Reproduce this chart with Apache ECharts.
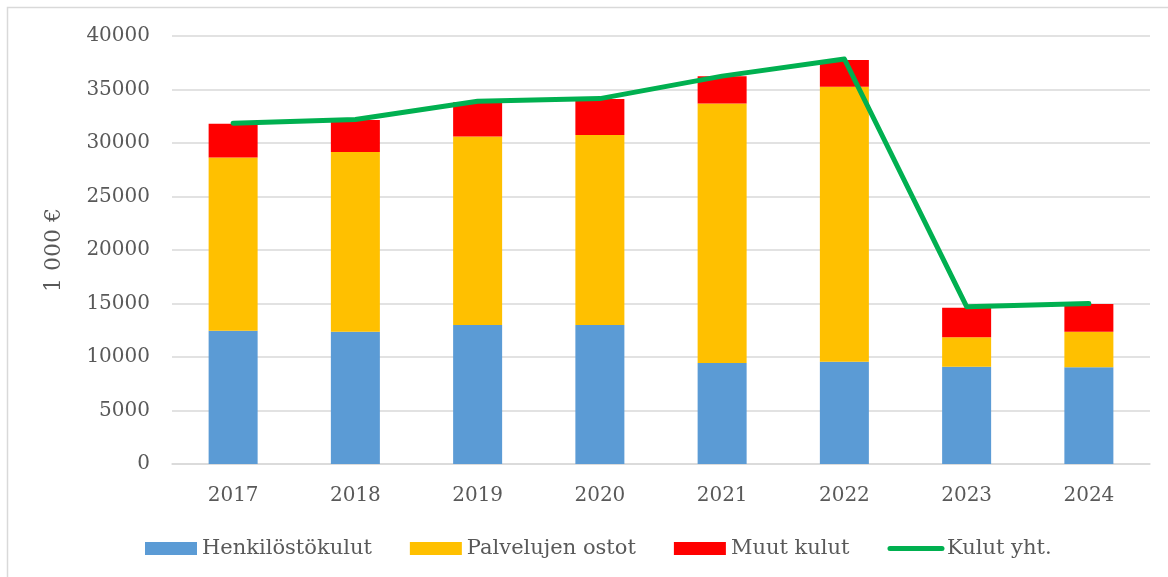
<!DOCTYPE html>
<html>
<head>
<meta charset="utf-8">
<script src="https://cdn.jsdelivr.net/npm/echarts@6/dist/echarts.min.js"></script>
<style>
  html, body { margin: 0; padding: 0; background: #fff; }
  #main { width: 1168px; height: 577px; }
</style>
</head>
<body>
<div id="main"></div>
<script>
// vuodet ja kulut (1 000 €)
const years = ['2017', '2018', '2019', '2020', '2021', '2022', '2023', '2024'];
const henkilosto = [12450, 12350, 13000, 13000, 9450, 9550, 9100, 9050];
const palvelut = [16200, 16800, 17600, 17750, 24250, 25700, 2750, 3300];
const muut = [3150, 3000, 3200, 3370, 2550, 2500, 2750, 2600];
const yhteensa = [31850, 32200, 33900, 34150, 36250, 37850, 14700, 15000];

const font = 'DejaVu Serif';
const grey = '#595959';

var myChart = echarts.init(document.getElementById('main'));

var option = {
  animation: false,
  textStyle: { fontFamily: font, color: grey },
  // kaavion reunaviiva (vain vasen ja yläreuna näkyvät kuvassa)
  graphic: [{
    type: 'rect',
    shape: { x: 7.5, y: 7.5, width: 1200, height: 600 },
    style: { fill: 'none', stroke: '#d9d9d9', lineWidth: 1.5 }
  }],
  grid: { left: 172, right: 18, top: 36, bottom: 113, containLabel: false },
  legend: {
    left: 140,
    top: 533,
    itemWidth: 52,
    itemHeight: 13,
    itemGap: 38,
    textStyle: { fontFamily: font, fontSize: 21, color: grey },
    data: [
      { name: 'Henkilöstökulut', icon: 'rect' },
      { name: 'Palvelujen ostot', icon: 'rect' },
      { name: 'Muut kulut', icon: 'rect' },
      {
        name: 'Kulut yht.',
        itemStyle: { opacity: 0 },
        lineStyle: { width: 5, cap: 'round', color: '#00b050' }
      }
    ]
  },
  xAxis: {
    type: 'category',
    data: years,
    axisLine: { lineStyle: { color: '#d9d9d9', width: 1.5 } },
    axisTick: { show: false },
    axisLabel: { fontFamily: font, fontSize: 20, color: grey, margin: 22 }
  },
  yAxis: {
    type: 'value',
    min: 0,
    max: 40000,
    interval: 5000,
    name: '1 000 €',
    nameLocation: 'middle',
    nameRotate: 90,
    nameGap: 107,
    nameTextStyle: { fontFamily: font, fontSize: 22, color: grey },
    axisLine: { show: false },
    axisTick: { show: false },
    axisLabel: {
      fontFamily: font, fontSize: 20, color: grey, margin: 22,
      formatter: (v) => String(v)
    },
    splitLine: { lineStyle: { color: '#d9d9d9', width: 1.5 } }
  },
  series: [
    {
      name: 'Henkilöstökulut',
      type: 'bar',
      stack: 'kulut',
      barWidth: 49,
      data: henkilosto,
      itemStyle: { color: '#5b9bd5' }
    },
    {
      name: 'Palvelujen ostot',
      type: 'bar',
      stack: 'kulut',
      barWidth: 49,
      data: palvelut,
      itemStyle: { color: '#ffc000' }
    },
    {
      name: 'Muut kulut',
      type: 'bar',
      stack: 'kulut',
      barWidth: 49,
      data: muut,
      itemStyle: { color: '#ff0000' }
    },
    {
      name: 'Kulut yht.',
      type: 'line',
      data: yhteensa,
      symbol: 'none',
      z: 5,
      lineStyle: { color: '#00b050', width: 5, cap: 'round', join: 'round' },
      itemStyle: { color: '#00b050' }
    }
  ]
};

myChart.setOption(option);
</script>
</body>
</html>
